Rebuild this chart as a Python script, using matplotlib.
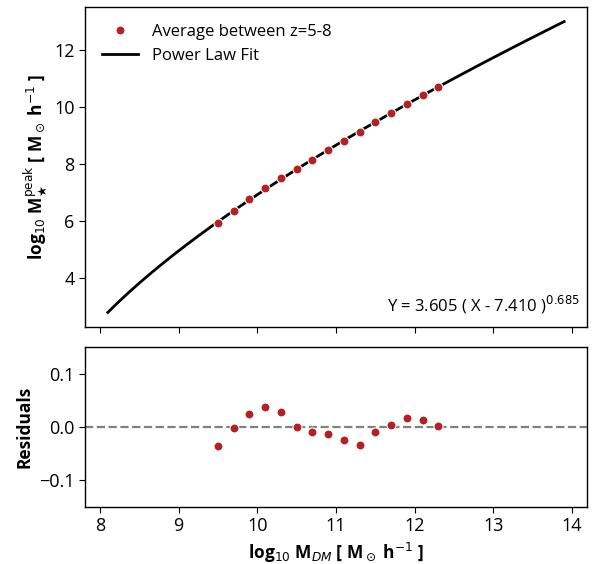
import numpy as np
import matplotlib
matplotlib.use("Agg")
import matplotlib.pyplot as plt

plt.rcParams['font.family'] = ['Open Sans', 'DejaVu Sans']
plt.rcParams['mathtext.fontset'] = 'dejavusans'

# Data
log_mdm = [9.5, 9.7, 9.9, 10.1, 10.3, 10.5, 10.7, 10.9, 11.1, 11.3, 11.5, 11.7, 11.9, 12.1, 12.3]
log_mstar = [5.938, 6.357, 6.759, 7.137, 7.486, 7.808, 8.142, 8.473, 8.792, 9.107, 9.451, 9.779, 10.102, 10.405, 10.695]
residuals = [-0.036, -0.002, 0.024, 0.037, 0.0275, 0.0, -0.009, -0.014, -0.024, -0.034, -0.010, 0.004, 0.016, 0.014, 0.0025]

fit_A, fit_x0, fit_p = 3.605, 7.410, 0.685
fit_xmin, fit_xmax = 8.1, 13.9

xfit = np.linspace(fit_xmin, fit_xmax, 300)
yfit = fit_A * (xfit - fit_x0) ** fit_p

fig = plt.figure(figsize=(5.93, 5.64), dpi=100)
ax1 = fig.add_axes([85/593, 1 - 327/564, 502/593, 320/564])
ax2 = fig.add_axes([85/593, 1 - 507/564, 502/593, 160/564], sharex=ax1)

red = '#b22222'
ax1.plot(log_mdm, log_mstar, 'o', color=red, ms=6.5, mec='white', mew=0.8,
         label='Average between z=5-8', zorder=3)
ax1.plot(xfit, yfit, '-', color='black', lw=2, label='Power Law Fit', zorder=2)
ax1.set_yticks([4, 6, 8, 10, 12])
ax1.tick_params(labelbottom=False, labelsize=13, length=4)
ax1.set_ylabel(r'log$_{10}$ M$_\bigstar^{\rm peak}$ [ M$_\odot$ h$^{-1}$ ]',
               fontsize=12.5, fontweight='bold')
ax1.legend(loc='upper left', frameon=False, fontsize=12, handlelength=2.2,
           borderaxespad=0.6)
ax1.text(0.986, 0.035, r'Y = 3.605 ( X - 7.410 )$^{0.685}$', transform=ax1.transAxes,
         ha='right', va='bottom', fontsize=12)

ax2.plot(log_mdm, residuals, 'o', color=red, ms=6.5, mec='white', mew=0.8, zorder=3)
ax2.axhline(0, color='gray', ls='--', lw=1.6, zorder=1)
ax2.set_ylim(-0.15, 0.15)
ax2.set_yticks([-0.1, 0.0, 0.1])
ax2.set_xticks([8, 9, 10, 11, 12, 13, 14])
ax2.tick_params(labelsize=13, length=4)
ax2.set_ylabel('Residuals', fontsize=12.5, fontweight='bold')
ax2.set_xlabel(r'log$_{10}$ M$_{DM}$ [ M$_\odot$ h$^{-1}$ ]', fontsize=12.5, fontweight='bold')

for ax in (ax1, ax2):
    for s in ax.spines.values():
        s.set_linewidth(1.0)

fig.savefig('out.png', dpi=100)
